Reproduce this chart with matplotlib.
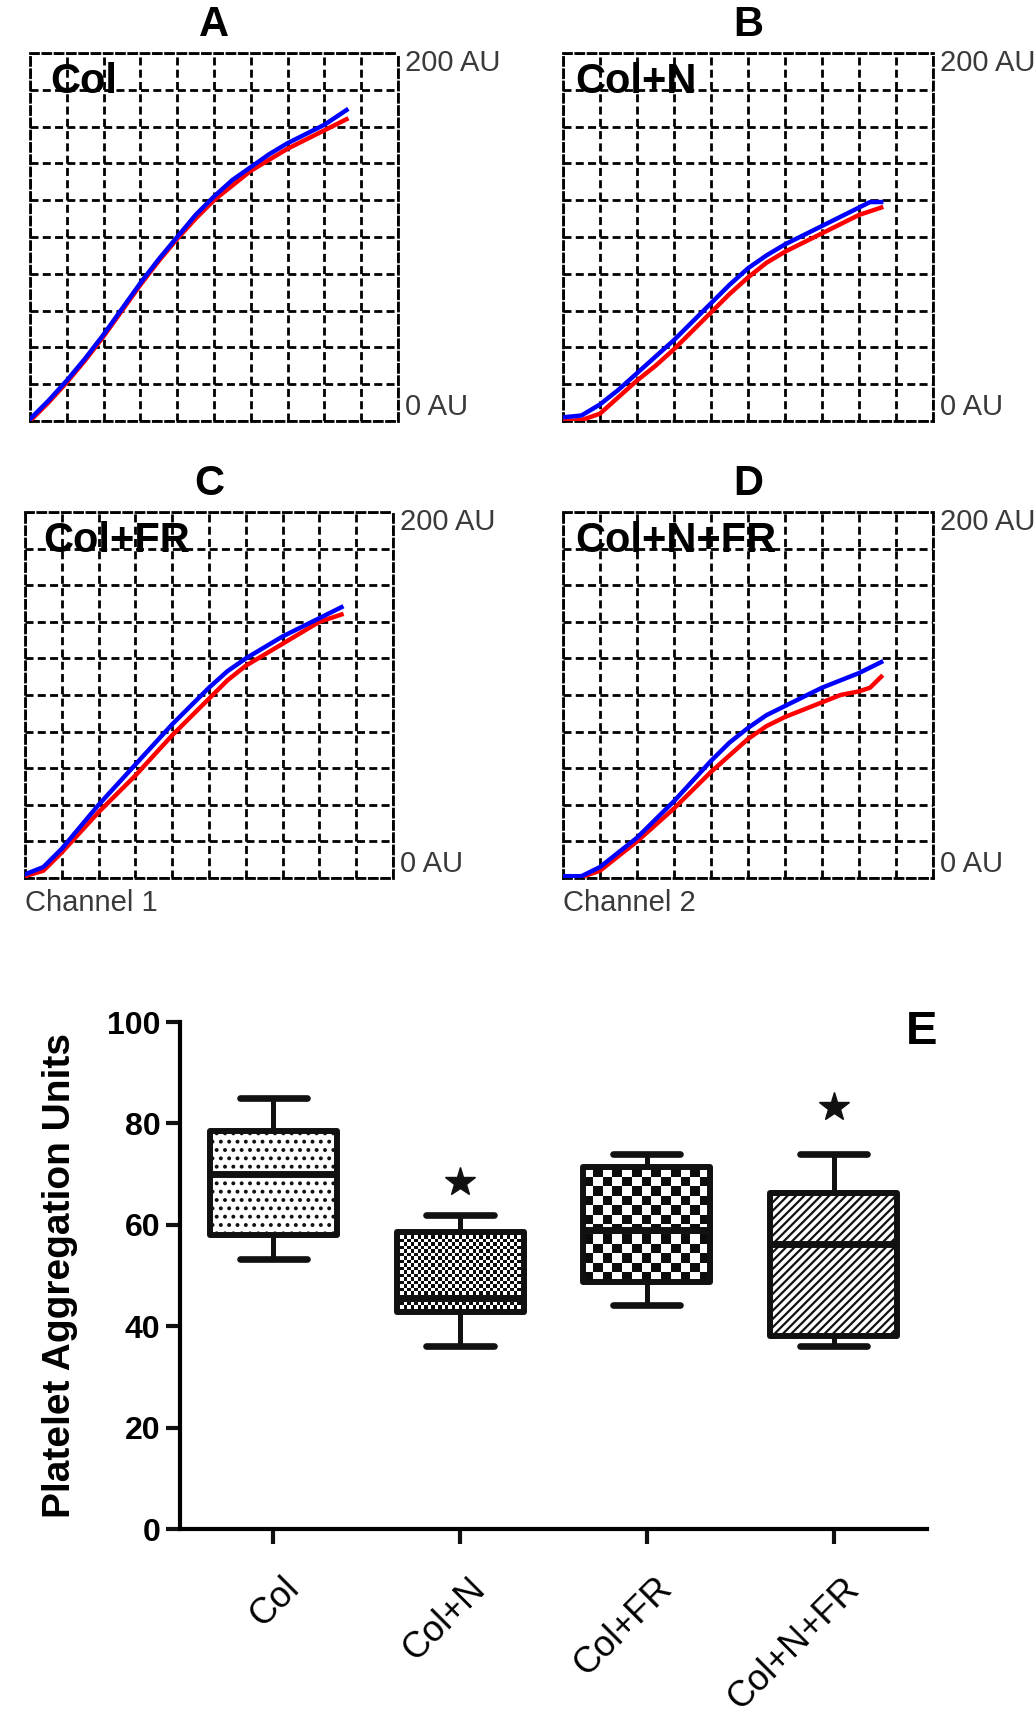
import numpy as np
import matplotlib.pyplot as plt
import matplotlib.transforms as mtransforms

plt.rcParams['font.family'] = ['Liberation Sans', 'DejaVu Sans']
plt.rcParams['hatch.linewidth'] = 1.6

# aggregometer traces, x in grid divisions, y in AU
time_div = [0, 0.5, 1, 1.5, 2, 2.5, 3, 3.5, 4, 4.5, 5, 5.5, 6, 6.5, 7, 7.5, 8, 8.3, 8.6]
col_blue = [1, 11, 22, 34, 47, 61, 75, 88, 100, 112, 122, 131, 138, 145, 151, 156, 161, 165, 169]
col_red = [0, 10, 21, 33, 46, 60, 74, 87, 99, 110, 120, 128, 136, 142, 148, 153, 158, 161, 164]
coln_blue = [2, 3, 9, 17, 26, 35, 44, 54, 64, 74, 83, 90, 96, 101, 106, 111, 116, 119, 119]
coln_red = [0, 0.5, 4, 13, 22, 30, 39, 49, 59, 69, 78, 86, 92, 97, 102, 107, 112, 114, 116]
colfr_blue = [2, 6, 16, 28, 40, 51, 62, 73, 84, 94, 104, 113, 120, 126, 132, 137, 142, 145, 148]
colfr_red = [1, 4, 14, 25, 36, 46, 56, 67, 78, 88, 98, 108, 116, 122, 128, 134, 140, 142, 144]
colnfr_blue = [1, 1, 6, 14, 22, 32, 42, 53, 64, 74, 82, 89, 94, 99, 104, 108, 112, 115, 118]
colnfr_red = [0, 0.5, 4, 12, 20, 29, 38, 48, 58, 67, 76, 83, 88, 92, 96, 100, 102, 104, 110]

panel_letters = ['A', 'B', 'C', 'D']
panel_names = ['Col', 'Col+N', 'Col+FR', 'Col+N+FR']
channels = [None, None, 'Channel 1', 'Channel 2']
reds = [col_red, coln_red, colfr_red, colnfr_red]
blues = [col_blue, coln_blue, colfr_blue, colnfr_blue]

# box plot summary (Platelet Aggregation Units)
groups = ['Col', 'Col+N', 'Col+FR', 'Col+N+FR']
q1 = [57.9, 42.9, 48.8, 38.0]
med = [70.0, 45.5, 59.0, 56.2]
q3 = [78.5, 58.6, 71.4, 66.3]
wlo = [53.2, 36.2, 44.1, 36.2]
whi = [85.0, 62.0, 74.0, 74.0]
star_groups = [2, 4]
star_y = [68.5, 83.2]

narrow = ['Liberation Sans Narrow', 'Liberation Sans']
dash = (0, (2.88, 1.54))

fig = plt.figure(figsize=(10.36, 17.2), dpi=100)

rects = [[0.02896, 0.75523, 0.35521, 0.21395],
         [0.54344, 0.75523, 0.35714, 0.21395],
         [0.02413, 0.48953, 0.35521, 0.21279],
         [0.54344, 0.48953, 0.35714, 0.21279]]
name_x = [0.054, 0.032, 0.049, 0.032]

for i in range(4):
    ax = fig.add_axes(rects[i])
    ax.set_xlim(0, 10)
    ax.set_ylim(0, 200)
    ax.set_xticks(np.arange(0, 11))
    ax.set_yticks(np.arange(0, 201, 20))
    ax.tick_params(length=0, labelbottom=False, labelleft=False)
    ax.grid(True, color='black', lw=2, linestyle=dash)
    for s in ax.spines.values():
        s.set_linestyle(dash)
        s.set_linewidth(2)
    ax.plot(time_div, reds[i], color='#ff0000', lw=3.2, zorder=3)
    ax.plot(time_div, blues[i], color='#0000ff', lw=3.2, zorder=4)
    ax.text(0.5, 1.076, panel_letters[i], transform=ax.transAxes, ha='center',
            va='center', fontsize=30, fontweight='bold')
    ax.text(name_x[i], 0.89, panel_names[i], transform=ax.transAxes, ha='left',
            va='baseline', fontsize=30, fontweight='bold', zorder=5)
    ax.text(1.02, 1.01, '200 AU', transform=ax.transAxes, ha='left', va='top',
            family=narrow, fontsize=21, color='#3a3a3a')
    ax.text(1.02, 0.0, '0 AU', transform=ax.transAxes, ha='left', va='bottom',
            family=narrow, fontsize=21, color='#3a3a3a')
    if channels[i]:
        ax.text(0.0, -0.03, channels[i], transform=ax.transAxes, ha='left', va='top',
                family=narrow, fontsize=21, color='#3a3a3a')

# panel E
axE = fig.add_axes([0.1737, 0.1110, 0.7210, 0.2948])
stats = []
for g, a, m, b, lo, hi in zip(groups, q1, med, q3, wlo, whi):
    stats.append(dict(label=g, q1=a, med=m, q3=b, whislo=lo, whishi=hi, fliers=[]))
pos = np.arange(1, len(groups) + 1)
bw = 0.68
bp = axE.bxp(stats, positions=pos, widths=bw, capwidths=0.36, patch_artist=True,
             showfliers=False,
             boxprops=dict(lw=4.3, edgecolor='#111111', facecolor='white', joinstyle='round'),
             medianprops=dict(color='#111111', lw=5, solid_capstyle='butt'),
             whiskerprops=dict(color='#111111', lw=3.6),
             capprops=dict(color='#111111', lw=4.8, solid_capstyle='round'))

hatches = ['..', None, None, '////']
for box, h in zip(bp['boxes'], hatches):
    if h:
        box.set_hatch(h)

# checkerboard fills for Col+N (fine) and Col+FR (coarse)
for k, (nr, nc) in zip([1, 2], [(23, 37), (12, 13)]):
    checker = np.add.outer(np.arange(nr), np.arange(nc)) % 2
    bp['boxes'][k].set_facecolor('none')
    im = axE.imshow(checker, cmap='gray_r', aspect='auto', interpolation='nearest',
                    vmin=0, vmax=1.05,
                    extent=[pos[k] - bw / 2, pos[k] + bw / 2, q1[k], q3[k]], zorder=1.5)
    im.set_clip_path(bp['boxes'][k])

axE.plot(star_groups, star_y, ls='none', marker='*', ms=22, color='#111111')

axE.set_xlim(0.5, 4.5)
axE.set_ylim(0, 100)
axE.set_yticks(np.arange(0, 101, 20))
axE.set_xticks(pos)
axE.set_xticklabels(groups, rotation=45, ha='right', va='center',
                    rotation_mode='anchor', fontsize=26)
axE.spines['top'].set_visible(False)
axE.spines['right'].set_visible(False)
axE.spines['left'].set_linewidth(3)
axE.spines['bottom'].set_linewidth(3)
axE.tick_params(axis='y', length=10, width=3, pad=4, labelsize=23, color='#111111')
axE.tick_params(axis='x', length=11, width=3, pad=28, color='#111111')
for lab in axE.get_yticklabels():
    lab.set_fontweight('bold')
offset = mtransforms.ScaledTranslation(0.2, 0, fig.dpi_scale_trans)
for lab in axE.get_xticklabels():
    lab.set_transform(lab.get_transform() + offset)
axE.set_ylabel('Platelet Aggregation Units', fontsize=28, fontweight='bold')
axE.yaxis.set_label_coords(-0.137, 0.5)

fig.text(922 / 1036, 1 - 1032 / 1720, 'E', fontsize=34, fontweight='bold',
         ha='center', va='center')

fig.savefig('out.png', dpi=100)
